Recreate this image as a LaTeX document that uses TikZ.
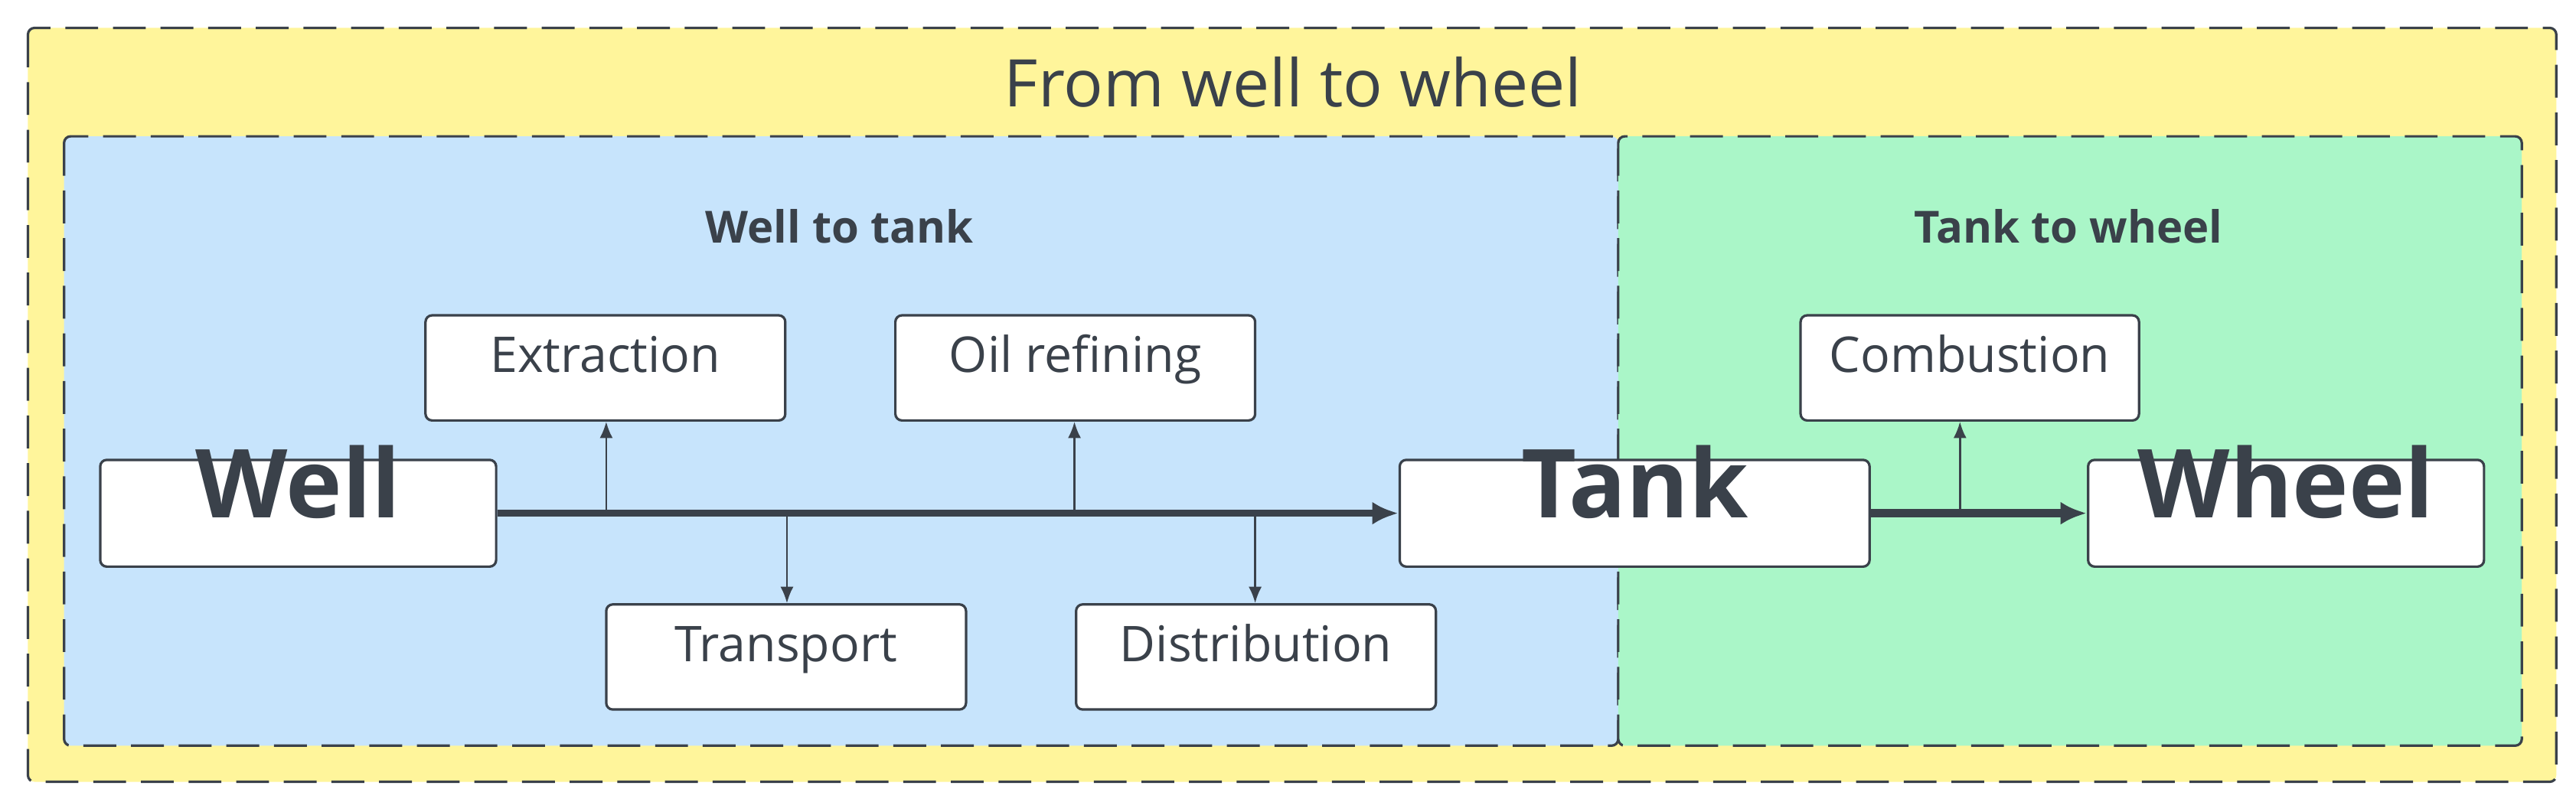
\documentclass[tikz,border=0pt]{standalone}
\usepackage{fontspec}
\setmainfont{Open Sans}
\usetikzlibrary{arrows.meta}
\definecolor{yel}{RGB}{255,245,155}
\definecolor{blu}{RGB}{199,228,252}
\definecolor{grn}{RGB}{170,246,200}
\definecolor{ink}{RGB}{58,65,74}
\begin{document}
\begin{tikzpicture}[x=1pt,y=-1pt,
 frame/.style={draw=ink,line width=1.5pt,dash pattern=on 20pt off 9pt,rounded corners=4pt},
 box/.style={draw=ink,line width=1.5pt,fill=white,rounded corners=4pt,text=ink,inner sep=0pt,text height=0.72em,text depth=0.2em,font=\fontsize{30}{36}\selectfont},
 big/.style={box,font=\fontsize{58}{66}\selectfont\bfseries},
 thin/.style={draw=ink,line width=1.2pt,-{Latex[length=10pt,width=8pt]}},
 main/.style={draw=ink,line width=4pt,-{Latex[length=16pt,width=14pt]}}]
\useasboundingbox (0,0) rectangle (1568,494);
\draw[frame,fill=yel] (17,17) rectangle (1556,476);
\draw[frame,fill=blu] (39,83) rectangle (985,454);
\draw[frame,fill=grn] (985,83) rectangle (1535,454);
\node[text=ink,font=\fontsize{40}{48}\selectfont] (title) at (787,50) {From well to wheel};
\node[text=ink,font=\fontsize{27}{32}\selectfont\bfseries] (wt) at (511,138) {Well to tank};
\node[text=ink,font=\fontsize{27}{32}\selectfont\bfseries] (tw) at (1259,138) {Tank to wheel};
\node[big,minimum width=241pt,minimum height=65pt] (well) at (181.5,312.5) {Well};
\node[big,minimum width=286pt,minimum height=65pt] (tank) at (995,312.5) {Tank};
\node[big,minimum width=241pt,minimum height=65pt] (wheel) at (1391.5,312.5) {Wheel};
\node[box,minimum width=219pt,minimum height=64pt] (ext) at (368.5,224) {Extraction};
\node[box,minimum width=219pt,minimum height=64pt] (oil) at (654.5,224) {Oil refining};
\node[box,minimum width=206pt,minimum height=64pt] (comb) at (1199,224) {Combustion};
\node[box,minimum width=219pt,minimum height=64pt] (tra) at (478.5,400) {Transport};
\node[box,minimum width=219pt,minimum height=64pt] (dis) at (764.5,400) {Distribution};
\coordinate (b1) at (369,312);\coordinate (b2) at (654,312);
\coordinate (b3) at (479,312);\coordinate (b4) at (764,312);
\coordinate (b5) at (1193,312);
\draw[thin] (b1) -- (b1 |- ext.south);
\draw[thin] (b2) -- (b2 |- oil.south);
\draw[thin] (b3) -- (b3 |- tra.north);
\draw[thin] (b4) -- (b4 |- dis.north);
\draw[thin] (b5) -- (b5 |- comb.south);
\draw[main] (well.east) -- (tank.west);
\draw[main,line width=5pt] (tank.east) -- (wheel.west);
\end{tikzpicture}
\end{document}
